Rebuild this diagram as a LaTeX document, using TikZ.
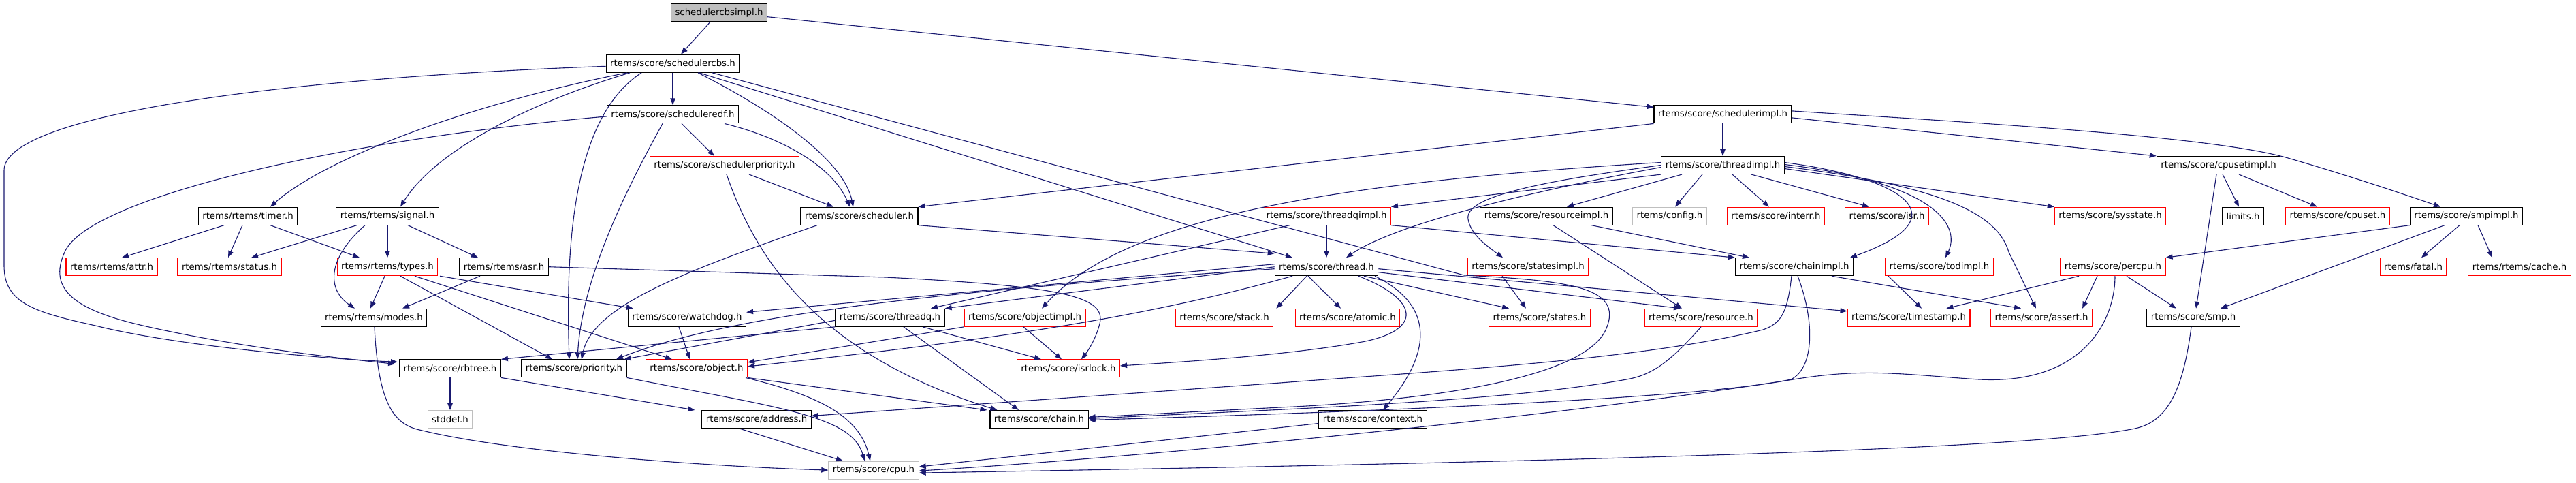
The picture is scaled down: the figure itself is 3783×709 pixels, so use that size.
\documentclass[tikz,border=0pt]{standalone}
\usepackage{fontspec}
\setmainfont{DejaVu Sans}
\usetikzlibrary{arrows.meta}
\definecolor{edgeblue}{HTML}{191970}
\definecolor{nodegrey}{HTML}{BFBFBF}
\definecolor{trunc}{HTML}{FF0000}
\begin{document}
\begin{tikzpicture}[x=1pt,y=-1pt,
  box/.style={draw=black, fill=white, line width=1.1pt, minimum height=26pt, inner xsep=6pt, inner ysep=0pt, font=\fontsize{13.3}{15}\selectfont},
  redbox/.style={box, draw=trunc},
  greybox/.style={box, draw=nodegrey},
  rootbox/.style={box, fill=nodegrey},
  e/.style={draw=edgeblue, line width=1.1pt, -{Triangle[length=10pt,width=7.5pt]}},
]
\useasboundingbox (0,0) rectangle (3783,709);
% rows
\def\rA{18.7}\def\rB{93.3}\def\rC{167.9}\def\rD{242.5}\def\rE{317.1}
\def\rF{391.7}\def\rG{466.3}\def\rH{540.9}\def\rI{615.5}\def\rJ{690.1}
% nodes
\node[rootbox] (cbsimpl) at (1056,\rA) {schedulercbsimpl.h};
\node[box] (cbs) at (988,\rB) {rtems/score/schedulercbs.h};
\node[box] (edf) at (988,\rC) {rtems/score/scheduleredf.h};
\node[box] (schedimpl) at (2530,\rC) {rtems/score/schedulerimpl.h};
\node[redbox] (schedprio) at (1064,\rD) {rtems/score/schedulerpriority.h};
\node[box] (threadimpl) at (2530,\rD) {rtems/score/threadimpl.h};
\node[box] (cpusetimpl) at (3258,\rD) {rtems/score/cpusetimpl.h};
\node[box] (timer) at (364,\rE) {rtems/rtems/timer.h};
\node[box] (signal) at (569,\rE) {rtems/rtems/signal.h};
\node[box] (scheduler) at (1262,\rE) {rtems/score/scheduler.h};
\node[redbox] (threadqimpl) at (1948,\rE) {rtems/score/threadqimpl.h};
\node[box] (resourceimpl) at (2271,\rE) {rtems/score/resourceimpl.h};
\node[greybox] (config) at (2452,\rE) {rtems/config.h};
\node[redbox] (interr) at (2608,\rE) {rtems/score/interr.h};
\node[redbox] (isr) at (2771,\rE) {rtems/score/isr.h};
\node[redbox] (sysstate) at (3099,\rE) {rtems/score/sysstate.h};
\node[box] (limits) at (3294,\rE) {limits.h};
\node[redbox] (cpuset) at (3433,\rE) {rtems/score/cpuset.h};
\node[box] (smpimpl) at (3622,\rE) {rtems/score/smpimpl.h};
\node[redbox] (attr) at (164,\rF) {rtems/rtems/attr.h};
\node[redbox] (status) at (337,\rF) {rtems/rtems/status.h};
\node[redbox] (types) at (569,\rF) {rtems/rtems/types.h};
\node[box] (asr) at (740,\rF) {rtems/rtems/asr.h};
\node[box] (thread) at (1948,\rF) {rtems/score/thread.h};
\node[redbox] (statesimpl) at (2244,\rF) {rtems/score/statesimpl.h};
\node[box] (chainimpl) at (2635,\rF) {rtems/score/chainimpl.h};
\node[redbox] (todimpl) at (2848,\rF) {rtems/score/todimpl.h};
\node[redbox] (percpu) at (3103,\rF) {rtems/score/percpu.h};
\node[redbox] (fatal) at (3544,\rF) {rtems/fatal.h};
\node[redbox] (cache) at (3700,\rF) {rtems/rtems/cache.h};
\node[box] (modes) at (549,\rG) {rtems/rtems/modes.h};
\node[box] (watchdog) at (1009,\rG) {rtems/score/watchdog.h};
\node[box] (threadq) at (1307,\rG) {rtems/score/threadq.h};
\node[redbox] (objectimpl) at (1505,\rG) {rtems/score/objectimpl.h};
\node[redbox] (stack) at (1798,\rG) {rtems/score/stack.h};
\node[redbox] (atomic) at (1979,\rG) {rtems/score/atomic.h};
\node[redbox] (states) at (2261,\rG) {rtems/score/states.h};
\node[redbox] (resource) at (2498,\rG) {rtems/score/resource.h};
\node[redbox] (timestamp) at (2803,\rG) {rtems/score/timestamp.h};
\node[redbox] (assert) at (2998,\rG) {rtems/score/assert.h};
\node[box] (smp) at (3221,\rG) {rtems/score/smp.h};
\node[box] (rbtree) at (661,\rH) {rtems/score/rbtree.h};
\node[box] (priority) at (843,\rH) {rtems/score/priority.h};
\node[redbox] (object) at (1023,\rH) {rtems/score/object.h};
\node[redbox] (isrlock) at (1569,\rH) {rtems/score/isrlock.h};
\node[greybox] (stddef) at (661,\rI) {stddef.h};
\node[box] (address) at (1111,\rI) {rtems/score/address.h};
\node[box] (chain) at (1526,\rI) {rtems/score/chain.h};
\node[box] (context) at (2016,\rI) {rtems/score/context.h};
\node[greybox] (cpu) at (1283,\rJ) {rtems/score/cpu.h};

% ---- edges ----
\draw[e] ([xshift=-13pt]cbsimpl.south) -- ([xshift=12pt]cbs.north);
\draw[e] ([yshift=-6pt]cbsimpl.east) -- ([yshift=-3pt]schedimpl.north west);
% schedulercbs.h
\draw[e] ([yshift=-4pt]cbs.west) .. controls (400,115) and (6,170) .. (6,250) -- (6,390) .. controls (6,445) and (50,458) .. (140,478) .. controls (260,508) and (480,527) .. ([xshift=-2pt,yshift=-4pt]rbtree.north west);
\draw[e] ([xshift=-67pt]cbs.south) .. controls (700,150) and (480,230) .. ([xshift=33pt]timer.north);
\draw[e] ([xshift=-63pt]cbs.south) .. controls (780,150) and (640,220) .. ([xshift=19pt]signal.north);
\draw[e] ([xshift=-46pt]cbs.south) .. controls (860,160) and (828,300) .. ([xshift=-7pt]priority.north);
\draw[e] (cbs) -- (edf);
\draw[e] ([xshift=37pt]cbs.south) .. controls (1150,170) and (1240,240) .. ([xshift=-9pt]scheduler.north);
\draw[e] ([xshift=39pt]cbs.south) -- ([xshift=-50pt]thread.north);
\draw[e] ([xshift=58pt]cbs.south) -- (2150,404) .. controls (2300,412) and (2385,420) .. (2359,482) .. controls (2330,555) and (2100,588) .. (1880,598) -- ([yshift=3pt]chain.east);
% scheduleredf.h
\draw[e] ([yshift=-3pt]edf.west) .. controls (500,205) and (130,290) .. (95,370) .. controls (70,425) and (110,455) .. (210,478) .. controls (350,510) and (500,526) .. ([xshift=-6pt,yshift=-7pt]rbtree.north west);
\draw[e] ([xshift=-15pt]edf.south) .. controls (930,260) and (855,400) .. ([xshift=5pt]priority.north);
\draw[e] ([xshift=13pt]edf.south) -- ([xshift=-15pt]schedprio.north);
\draw[e] ([xshift=76pt]edf.south) .. controls (1160,205) and (1225,250) .. ([xshift=-14pt]scheduler.north);
% schedulerpriority.h
\draw[e] ([xshift=36pt]schedprio.south) -- ([xshift=-38pt]scheduler.north);
\draw[e] ([xshift=3pt]schedprio.south) .. controls (1110,380) and (1200,520) .. ([xshift=11pt]chain.north west);
% scheduler.h
\draw[e] ([xshift=-62pt]scheduler.south) .. controls (1000,400) and (870,450) .. ([xshift=11pt]priority.north);
\draw[e] (scheduler.south east) -- ([yshift=6pt]thread.north west);
% schedulerimpl.h
\draw[e] (schedimpl.south west) -- (scheduler.north east);
\draw[e] (schedimpl) -- (threadimpl);
\draw[e] ([yshift=-5pt]schedimpl.east) -- (cpusetimpl.north west);
\draw[e] ([yshift=5pt]schedimpl.east) .. controls (2900,180) and (3250,200) .. (3360,232) .. controls (3450,258) and (3530,285) .. ([xshift=-38pt]smpimpl.north);
% threadimpl.h
\draw[e] (threadimpl.south west) -- (threadqimpl.north east);
\draw[e] ([yshift=-3pt]threadimpl.west) .. controls (2200,290) and (2040,335) .. ([xshift=29pt]thread.north);
\draw[e] ([yshift=4pt]threadimpl.west) .. controls (1950,268) and (1650,320) .. ([xshift=25pt]objectimpl.north);
\draw[e] ([yshift=0pt]threadimpl.west) .. controls (2250,268) and (2150,290) .. (2156,322) .. controls (2160,345) and (2185,362) .. ([xshift=-37pt]statesimpl.north);
\draw[e] ([xshift=-60pt]threadimpl.south) -- ([xshift=30pt]resourceimpl.north);
\draw[e] ([xshift=-30pt]threadimpl.south) -- ([xshift=8pt]config.north);
\draw[e] ([xshift=14pt]threadimpl.south) -- ([xshift=-10pt]interr.north);
\draw[e] ([xshift=42pt]threadimpl.south) -- ([xshift=-26pt]isr.north);
\draw[e] ([yshift=-5pt]threadimpl.east) -- (sysstate.north west);
\draw[e] ([yshift=4pt]threadimpl.east) .. controls (2800,262) and (2880,320) .. ([xshift=-5pt]chainimpl.north east);
\draw[e] ([yshift=1pt]threadimpl.east) .. controls (2840,268) and (2880,330) .. ([xshift=9pt]todimpl.north);
\draw[e] ([yshift=-2pt]threadimpl.east) .. controls (2870,275) and (2935,320) .. (2950,370) -- ([xshift=-8pt]assert.north);
% rtems/rtems
\draw[e] ([xshift=-35pt]timer.south) -- ([xshift=15pt]attr.north);
\draw[e] ([xshift=-8pt]timer.south) -- ([xshift=-2pt]status.north);
\draw[e] ([xshift=33pt]timer.south) -- ([xshift=-41pt]types.north);
\draw[e] ([xshift=-45pt]signal.south) -- ([xshift=32pt]status.north);
\draw[e] ([xshift=-33pt]signal.south) .. controls (480,380) and (480,425) .. ([xshift=-28pt]modes.north);
\draw[e] (signal) -- (types);
\draw[e] ([xshift=30pt]signal.south) -- ([xshift=-38pt]asr.north);
\draw[e] ([xshift=-4pt]types.south) -- ([xshift=-5pt]modes.north);
\draw[e] ([xshift=19pt]types.south) -- ([xshift=-32pt]priority.north);
\draw[e] ([xshift=40pt]types.south) -- ([xshift=-36pt]object.north);
\draw[e] ([xshift=77pt]types.south) -- ([xshift=8pt]watchdog.north west);
\draw[e] ([xshift=-35pt]asr.south) -- ([xshift=42pt]modes.north);
\draw[e] (asr.east) -- (1300,407) .. controls (1560,420) and (1625,435) .. (1615,475) .. controls (1610,495) and (1600,512) .. ([xshift=19pt]isrlock.north);
\draw[e] ([xshift=1pt]modes.south) .. controls (555,585) and (575,620) .. (612,630) .. controls (750,665) and (1050,685) .. (cpu.west);
% threadqimpl.h
\draw[e] (threadqimpl) -- (thread);
\draw[e] ([xshift=-54pt]threadqimpl.south) -- ([xshift=60pt]threadq.north);
\draw[e] (threadqimpl.south east) -- (chainimpl.north west);
% thread.h
\draw[e] ([yshift=4pt]thread.west) -- ([yshift=8pt]watchdog.east);
\draw[e] ([yshift=0pt]thread.west) -- (threadq.north east);
\draw[e] ([yshift=-3pt]thread.west) .. controls (1500,420) and (1100,450) .. ([xshift=62pt]priority.north);
\draw[e] ([xshift=-50pt]thread.south) .. controls (1700,460) and (1500,495) .. ([yshift=3pt]object.east);
\draw[e] ([xshift=-29pt]thread.south) -- ([xshift=4pt]stack.north east);
\draw[e] ([xshift=-27pt]thread.south) -- ([xshift=-10pt]atomic.north);
\draw[e] ([xshift=47pt]thread.south) .. controls (2085,440) and (2090,485) .. (2000,502) .. controls (1900,520) and (1760,530) .. ([yshift=4pt]isrlock.east);
\draw[e] ([xshift=71pt]thread.south) .. controls (2110,450) and (2100,520) .. ([xshift=15pt]context.north);
\draw[e] ([xshift=55pt]thread.south) -- ([xshift=-45pt]states.north);
\draw[e] ([yshift=-8pt]thread.east) -- ([xshift=-30pt]resource.north);
\draw[e] ([yshift=-3pt]thread.east) -- ([yshift=-4pt]timestamp.north west);
% others
\draw[e] ([xshift=-38pt]statesimpl.south) -- ([xshift=-20pt]states.north);
\draw[e] (resourceimpl) -- (chainimpl);
\draw[e] ([xshift=10pt]resourceimpl.south) -- ([xshift=-28pt]resource.north);
\draw[e] ([xshift=5pt]chainimpl.south) .. controls (2665,470) and (2665,540) .. (2630,557) .. controls (2500,585) and (2000,605) .. ([yshift=-1pt]chain.east);
\draw[e] ([xshift=-4pt]chainimpl.south) .. controls (2625,460) and (2615,475) .. (2589,484) .. controls (2400,530) and (2100,545) .. (1880,562) -- ([yshift=5pt]address.east);
\draw[e] ([xshift=55pt]chainimpl.south) -- ([xshift=-30pt]assert.north);
\draw[e] ([xshift=-75pt]todimpl.south) -- ([xshift=19pt]timestamp.north);
\draw[e] ([xshift=-50pt]percpu.south) -- ([xshift=-35pt]timestamp.north east);
\draw[e] ([xshift=-23pt]percpu.south) -- ([xshift=-15pt]assert.north east);
\draw[e] ([xshift=20pt]percpu.south) -- ([xshift=-25pt]smp.north);
\draw[e] ([xshift=3pt]percpu.south) .. controls (3106,470) and (3060,565) .. (2906,557) .. controls (2800,550) and (2740,540) .. (2640,556) .. controls (2300,610) and (1700,670) .. ([yshift=-1pt]cpu.east);
\draw[e] ([xshift=-3pt]cpusetimpl.south) -- ([xshift=4pt]smp.north);
\draw[e] ([xshift=6pt]cpusetimpl.south) -- ([xshift=-6pt]limits.north);
\draw[e] ([xshift=30pt]cpusetimpl.south) -- ([xshift=-30pt]cpuset.north);
\draw[e] (smpimpl.south west) -- (percpu.north east);
\draw[e] ([xshift=-32pt]smpimpl.south) -- ([xshift=40pt]smp.north);
\draw[e] ([xshift=-10pt]smpimpl.south) -- ([xshift=12pt]fatal.north);
\draw[e] ([xshift=17pt]smpimpl.south) -- ([xshift=-40pt]cache.north);
\draw[e] ([xshift=-3pt]smp.south) .. controls (3205,580) and (3180,622) .. (3130,630) .. controls (3000,655) and (2500,675) .. ([yshift=-4pt]cpu.east);
\draw[e] ([xshift=-12pt]watchdog.south) -- ([xshift=-10pt]object.north);
\draw[e] (threadq.south west) -- (rbtree.north east);
\draw[e] ([yshift=-4pt]threadq.west) -- ([xshift=-4pt]priority.north east);
\draw[e] ([xshift=20pt]threadq.south) -- ([xshift=-30pt]chain.north);
\draw[e] ([xshift=48pt]threadq.south) -- ([xshift=-40pt]isrlock.north);
\draw[e] (objectimpl.south west) -- ([yshift=9pt]object.east);
\draw[e] ([xshift=-2pt]objectimpl.south) -- ([xshift=-10pt]isrlock.north);
\draw[e] (resource.south) .. controls (2445,540) and (2420,552) .. (2383,558) .. controls (2200,590) and (1900,600) .. ([yshift=1pt]chain.east);
\draw[e] (rbtree) -- (stddef);
\draw[e] (rbtree.south east) -- ([xshift=-10pt]address.north west);
\draw[e] (priority.south east) .. controls (1150,600) and (1250,610) .. ([xshift=-13pt]cpu.north);
\draw[e] ([xshift=72pt]object.south) .. controls (1200,580) and (1262,610) .. ([xshift=-5pt]cpu.north);
\draw[e] (object.south east) -- ([xshift=-4pt]chain.north west);
\draw[e] ([xshift=-25pt]address.south) -- ([xshift=-45pt]cpu.north);
\draw[e] ([yshift=-6pt]context.west) -- ([yshift=5pt]cpu.east);
\end{tikzpicture}
\end{document}
